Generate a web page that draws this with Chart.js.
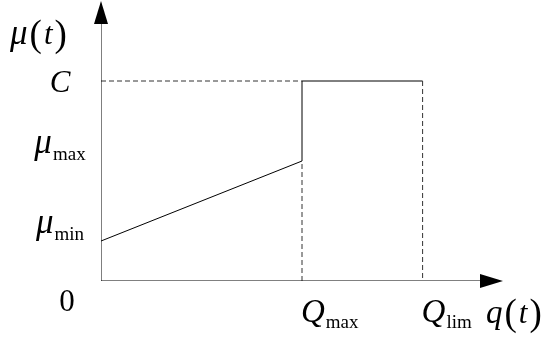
<!DOCTYPE html>
<html>
<head>
<meta charset="utf-8">
<script src="https://cdn.jsdelivr.net/npm/chart.js@4"></script>
<style>
  html, body { margin: 0; padding: 0; background: #fff; }
  #wrap { width: 545px; height: 338px; }
</style>
</head>
<body>
<div id="wrap"><canvas id="chart"></canvas></div>
<script>
// ===== DATA =====
// piecewise characteristic mu(q): rising line up to Qmax, then jump to C up to Qlim
const curveX = [0, 5, 5, 8];
const curveY = [1, 3, 5, 5];

// dashed guide lines
const guideC = [[0, 5], [5, 5]];
const guideQmax = [[5, 0], [5, 3]];
const guideQlim = [[8, 5], [8, 0]];

// axis extent (arrow tips)
const xAxisMax = 10;
const yAxisMax = 7;

// tick labels
const yTickValues = [5, 3, 1];
const yTickMain = ['C', 'μ', 'μ'];
const yTickSub = ['', 'max', 'min'];

const xTickValues = [5, 8];
const xTickMain = ['Q', 'Q'];
const xTickSub = ['max', 'lim'];

// ===== HELPERS =====
function toPoints(xs, ys) {
    return xs.map((x, i) => ({ x: x, y: ys[i] }));
}
function pairPoints(pairs) {
    return pairs.map(p => ({ x: p[0], y: p[1] }));
}

const SERIF = '"Liberation Serif", "Times New Roman", serif';
const ITAL = 'italic 31px ' + SERIF;
const ITAL_MU = 'italic 35px ' + SERIF;
const ITAL_Q = 'italic 33px ' + SERIF;
const UPR = '31px ' + SERIF;
const PAREN = '37px ' + SERIF;
const SUB = '19px ' + SERIF;

function symFont(s) {
    if (s === 'μ') return ITAL_MU;
    if (s === 'Q' || s === 'q') return ITAL_Q;
    return ITAL;
}

// ===== ARROWS + LABELS PLUGIN =====
const axisDecor = {
    id: 'axisDecor',
    afterDatasetsDraw(chart) {
        const ctx = chart.ctx;
        const xs = chart.scales.x;
        const ys = chart.scales.y;
        const x0 = xs.getPixelForValue(0);
        const y0 = ys.getPixelForValue(0);
        const xTip = xs.getPixelForValue(xAxisMax);
        const yTip = ys.getPixelForValue(yAxisMax);

        ctx.save();
        ctx.fillStyle = '#000';

        // y arrow
        ctx.beginPath();
        ctx.moveTo(x0, yTip);
        ctx.lineTo(x0 - 7, yTip + 23);
        ctx.lineTo(x0 + 7, yTip + 23);
        ctx.closePath();
        ctx.fill();

        // x arrow
        ctx.beginPath();
        ctx.moveTo(xTip, y0);
        ctx.lineTo(xTip - 23, y0 - 7);
        ctx.lineTo(xTip - 23, y0 + 7);
        ctx.closePath();
        ctx.fill();

        ctx.textBaseline = 'alphabetic';

        // y tick labels, centred in the left margin
        yTickValues.forEach((v, i) => {
            const py = ys.getPixelForValue(v);
            ctx.font = symFont(yTickMain[i]);
            const wMain = ctx.measureText(yTickMain[i]).width;
            ctx.font = SUB;
            const wSub = yTickSub[i] ? ctx.measureText(yTickSub[i]).width + 1 : 0;
            let left = 60 - (wMain + wSub) / 2;
            ctx.textAlign = 'left';
            ctx.font = symFont(yTickMain[i]);
            if (yTickSub[i]) {
                ctx.fillText(yTickMain[i], left, py - 8);
                ctx.font = SUB;
                ctx.fillText(yTickSub[i], left + wMain + 1, py - 1);
            } else {
                ctx.fillText(yTickMain[i], left, py + 11);
            }
        });

        // x tick labels
        xTickValues.forEach((v, i) => {
            const px = xs.getPixelForValue(v);
            ctx.textAlign = 'left';
            ctx.font = symFont(xTickMain[i]);
            const wMain = ctx.measureText(xTickMain[i]).width;
            ctx.fillText(xTickMain[i], px - 1, y0 + 41);
            ctx.font = SUB;
            ctx.fillText(xTickSub[i], px - 1 + wMain + 1, y0 + 47);
        });

        // origin
        ctx.font = UPR;
        ctx.textAlign = 'center';
        ctx.fillText('0', 67, y0 + 30);

        // axis titles: mu(t) and q(t)
        drawFn(ctx, 'μ', 10, 44);
        drawFn(ctx, 'q', 486, y0 + 42);

        ctx.restore();
    }
};

function drawFn(ctx, sym, x, base) {
    ctx.textAlign = 'left';
    ctx.font = symFont(sym);
    ctx.fillText(sym, x, base);
    x += ctx.measureText(sym).width + 2;
    ctx.font = PAREN;
    ctx.fillText('(', x, base + 2);
    x += ctx.measureText('(').width + 2;
    ctx.font = ITAL;
    ctx.fillText('t', x, base);
    x += ctx.measureText('t').width + 2;
    ctx.font = PAREN;
    ctx.fillText(')', x, base + 2);
}

// ===== CHART =====
const lineDefaults = { showLine: true, pointRadius: 0, fill: false, tension: 0 };
const dash = [5, 3];

new Chart(document.getElementById('chart'), {
    type: 'scatter',
    data: {
        datasets: [
            { ...lineDefaults, data: pairPoints([[0, 0], [xAxisMax - 0.5, 0]]), borderColor: '#000', borderWidth: 1 },
            { ...lineDefaults, data: pairPoints([[0, 0], [0, yAxisMax - 0.5]]), borderColor: '#000', borderWidth: 1 },
            { ...lineDefaults, data: pairPoints(guideC), borderColor: '#333', borderWidth: 1, borderDash: dash },
            { ...lineDefaults, data: pairPoints(guideQmax), borderColor: '#333', borderWidth: 1, borderDash: dash },
            { ...lineDefaults, data: pairPoints(guideQlim), borderColor: '#333', borderWidth: 1, borderDash: dash },
            { ...lineDefaults, data: toPoints(curveX, curveY), borderColor: '#000', borderWidth: 1 }
        ]
    },
    options: {
        responsive: true,
        maintainAspectRatio: false,
        animation: false,
        layout: { padding: { left: 101, right: 42, top: 1, bottom: 57 } },
        plugins: { legend: { display: false }, tooltip: { enabled: false } },
        scales: {
            x: { type: 'linear', min: 0, max: xAxisMax, display: false },
            y: { type: 'linear', min: 0, max: yAxisMax, display: false }
        }
    },
    plugins: [axisDecor]
});
</script>
</body>
</html>
